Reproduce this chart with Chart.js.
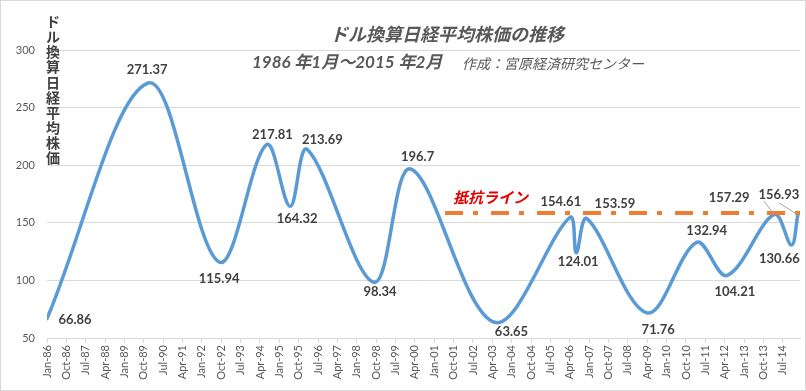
<!DOCTYPE html>
<html>
<head>
<meta charset="utf-8">
<script src="https://cdn.jsdelivr.net/npm/chart.js@4/dist/chart.umd.min.js"></script>
<style>
  html, body { margin: 0; padding: 0; background: #fff; }
  canvas { display: block; }
</style>
</head>
<body>
<canvas id="c1" width="806" height="391"></canvas>
<script>
// turning points of the dollar-based Nikkei average (month, value)
const dates = ['1986-01', '1989-12', '1992-09', '1994-07', '1995-06', '1996-02', '1998-09', '2000-02', '2003-05',
    '2006-04', '2006-07', '2006-12', '2009-04', '2011-03', '2012-05', '2014-03', '2014-11', '2015-02'];
const values = [66.86, 271.37, 115.94, 217.81, 164.32, 213.69, 98.34, 196.7, 63.65,
    154.61, 124.01, 153.59, 71.76, 132.94, 104.21, 157.29, 130.66, 156.93];

// resistance line
const resistanceDates = ['2001-06', '2015-05'];
const resistanceValue = 158.5;

const tickLabels = ['Jan-86', 'Oct-86', 'Jul-87', 'Apr-88', 'Jan-89', 'Oct-89', 'Jul-90', 'Apr-91', 'Jan-92', 'Oct-92',
    'Jul-93', 'Apr-94', 'Jan-95', 'Oct-95', 'Jul-96', 'Apr-97', 'Jan-98', 'Oct-98', 'Jul-99', 'Apr-00',
    'Jan-01', 'Oct-01', 'Jul-02', 'Apr-03', 'Jan-04', 'Oct-04', 'Jul-05', 'Apr-06', 'Jan-07', 'Oct-07',
    'Jul-08', 'Apr-09', 'Jan-10', 'Oct-10', 'Jul-11', 'Apr-12', 'Jan-13', 'Oct-13', 'Jul-14'];
const yTicks = [50, 100, 150, 200, 250, 300];

// label offsets in px from each point (dx, dy)
const labelOffsets = [[28, 1], [-1, -13], [0, 17], [6, -10], [7, 13], [15, -10], [6, 10], [7, -12], [17, 10],
    [-9, -16], [2, 9], [28, -15], [11, 17], [10, -12], [8, 16], [-45, -17], [-12, 14], [-19, -20]];

const MONTHS = ['Jan', 'Feb', 'Mar', 'Apr', 'May', 'Jun', 'Jul', 'Aug', 'Sep', 'Oct', 'Nov', 'Dec'];

function monthIndex(d){
    const [y, m] = d.split('-').map(Number);
    return (y - 1986) * 12 + (m - 1);
}
function labelIndex(l){
    const [mn, yy] = l.split('-');
    const yr = Number(yy) >= 80 ? 1900 + Number(yy) : 2000 + Number(yy);
    return (yr - 1986) * 12 + MONTHS.indexOf(mn);
}
const tickPos = tickLabels.map(labelIndex);

const pointsLabels = {
    id: 'pointsLabels',
    beforeDraw(chart){
        const ctx = chart.ctx;
        ctx.save();
        ctx.fillStyle = '#fff';
        ctx.fillRect(0, 0, chart.width, chart.height);
        ctx.restore();
    },
    afterDatasetsDraw(chart){
        const ctx = chart.ctx;
        const meta = chart.getDatasetMeta(1);
        ctx.save();
        // leader lines for the last label
        const pk = meta.data[15], last = meta.data[17];
        const lx = last.x + labelOffsets[17][0], ly = last.y + labelOffsets[17][1];
        ctx.strokeStyle = '#a6a6a6';
        ctx.lineWidth = 1;
        ctx.beginPath();
        ctx.moveTo(lx - 15, ly + 6); ctx.lineTo(pk.x, pk.y);
        ctx.moveTo(lx, ly + 8); ctx.lineTo(last.x, last.y);
        ctx.stroke();

        ctx.font = 'bold 13px Lato, "Open Sans", sans-serif';
        ctx.fillStyle = '#404040';
        ctx.textAlign = 'center';
        ctx.textBaseline = 'middle';
        meta.data.forEach((p, i) => {
            ctx.fillText(String(values[i]), p.x + labelOffsets[i][0], p.y + labelOffsets[i][1]);
        });

        // resistance label
        const r = chart.getDatasetMeta(0).data[0];
        ctx.font = 'italic bold 15px "Noto Sans CJK JP", sans-serif';
        ctx.fillStyle = '#e60000';
        ctx.textAlign = 'left';
        ctx.fillText('抵抗ライン', r.x + 8, r.y - 16);

        // titles
        ctx.fillStyle = '#595959';
        ctx.textAlign = 'center';
        ctx.font = 'italic bold 18px "Noto Sans CJK JP", sans-serif';
        ctx.fillText('ドル換算日経平均株価の推移', 447, 34);
        ctx.textAlign = 'left';
        ctx.font = 'italic bold 17px Lato, "Noto Sans CJK JP", sans-serif';
        ctx.fillText('1986 年1月～2015 年2月', 252, 63);
        ctx.font = 'italic 14px "Noto Sans CJK JP", sans-serif';
        ctx.fillText('作成：宮原経済研究センター', 462, 64);

        // vertical axis title
        ctx.fillStyle = '#404040';
        ctx.textAlign = 'center';
        ctx.font = 'bold 14px "Noto Sans CJK JP", sans-serif';
        const yTitle = 'ドル換算日経平均株価';
        for(let i = 0; i < yTitle.length; i++){
            ctx.fillText(yTitle[i], 53, 22 + i * 15.05);
        }

        ctx.strokeStyle = '#d9d9d9';
        ctx.strokeRect(0.5, 0.5, chart.width - 1, chart.height - 1);
        ctx.restore();
    }
};

new Chart(document.getElementById('c1'), {
    type: 'line',
    data: {
        datasets: [{
            data: resistanceDates.map(d => ({x: monthIndex(d), y: resistanceValue})),
            borderColor: '#ED7D31',
            borderWidth: 4,
            borderDash: [18, 10, 5, 13],
            pointRadius: 0,
            tension: 0,
            clip: false
        }, {
            data: dates.map((d, i) => ({x: monthIndex(d), y: values[i]})),
            borderColor: '#5B9BD5',
            borderWidth: 3.5,
            pointRadius: 0,
            tension: 0.35,
            borderCapStyle: 'round'
        }]
    },
    plugins: [pointsLabels],
    options: {
        responsive: false,
        animation: false,
        devicePixelRatio: 1,
        layout: { padding: { top: 50, right: 6, left: 0, bottom: 0 } },
        plugins: { legend: { display: false }, tooltip: { enabled: false } },
        scales: {
            x: {
                type: 'linear',
                min: 0,
                max: 350,
                afterBuildTicks: (scale) => { scale.ticks = tickPos.map(v => ({value: v})); },
                afterFit: (scale) => { scale.height = 53; },
                ticks: {
                    autoSkip: false,
                    maxRotation: 90,
                    minRotation: 90,
                    padding: 2,
                    color: '#595959',
                    font: { family: 'Lato', size: 11 },
                    callback: (v) => tickLabels[tickPos.indexOf(v)]
                },
                grid: { drawOnChartArea: false, tickLength: 5, color: '#d9d9d9' },
                border: { color: '#d9d9d9' }
            },
            y: {
                min: 50,
                max: 300,
                afterBuildTicks: (scale) => { scale.ticks = yTicks.map(v => ({value: v})); },
                afterFit: (scale) => { scale.width = 47; },
                ticks: { padding: 12, color: '#595959', font: { family: 'Lato', size: 11 } },
                grid: { color: '#d9d9d9', drawTicks: false },
                border: { display: false }
            }
        }
    }
});
</script>
</body>
</html>
